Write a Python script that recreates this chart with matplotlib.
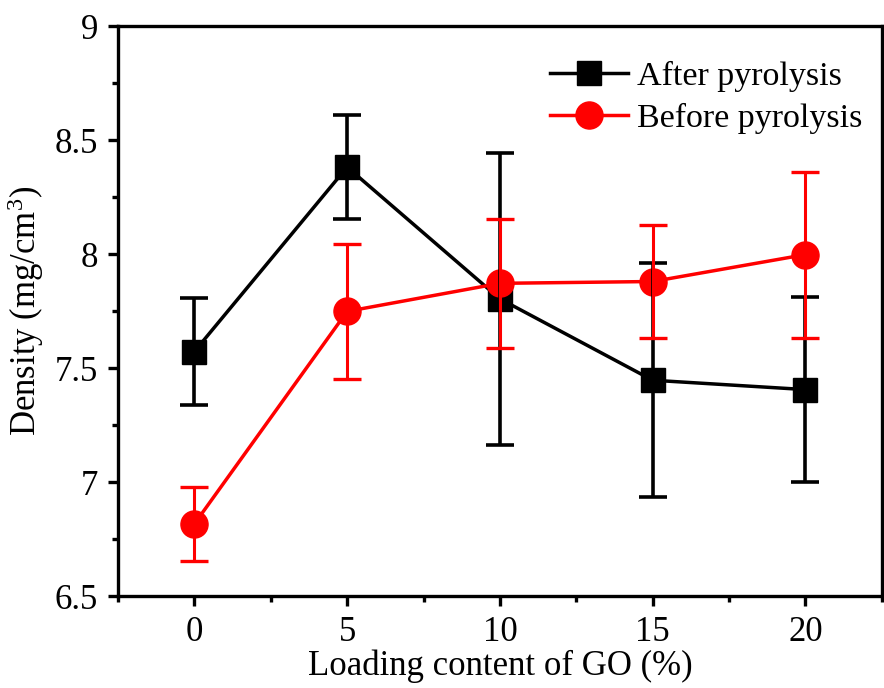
import matplotlib
matplotlib.use("Agg")
import matplotlib.pyplot as plt
from matplotlib.ticker import MultipleLocator

plt.rcParams["font.family"] = "Liberation Serif"
plt.rcParams["mathtext.fontset"] = "custom"
plt.rcParams["mathtext.rm"] = "Liberation Serif"

# GO loading (%) and measured densities (mg/cm3)
go_loading = [0, 5, 10, 15, 20]
after_density = [7.573, 8.382, 7.804, 7.447, 7.406]
after_err = [0.236, 0.228, 0.640, 0.513, 0.405]
before_density = [6.817, 7.749, 7.872, 7.880, 7.998]
before_err = [0.161, 0.297, 0.283, 0.248, 0.364]

fig = plt.figure(figsize = (8.84, 6.88), dpi = 100)
ax = fig.add_axes([0.1335, 0.1335, 0.864, 0.8285])

# lines with markers
ax.plot(go_loading, after_density, color = "black", linewidth = 2.5,
        marker = "s", markersize = 17.5, label = "After pyrolysis", zorder = 2)
ax.plot(go_loading, before_density, color = "red", linewidth = 2.5,
        marker = "o", markersize = 19.5, label = "Before pyrolysis", zorder = 3)

# error bars drawn over the markers
ax.errorbar(go_loading, after_density, yerr = after_err, fmt = "none",
            ecolor = "black", elinewidth = 2.6, capsize = 10, capthick = 2.6, zorder = 4)
ax.errorbar(go_loading, before_density, yerr = before_err, fmt = "none",
            ecolor = "red", elinewidth = 2.2, capsize = 10, capthick = 2.4, zorder = 5)

ax.set_xlim(-2.5, 22.5)
ax.set_ylim(6.5, 9)
ax.xaxis.set_major_locator(MultipleLocator(5))
ax.xaxis.set_minor_locator(MultipleLocator(2.5))
ax.yaxis.set_major_locator(MultipleLocator(0.5))
ax.yaxis.set_minor_locator(MultipleLocator(0.25))
ax.yaxis.set_major_formatter(plt.FuncFormatter(lambda v, p: f"{v:g}"))

for s in ax.spines.values():
    s.set_linewidth(2.4)
ax.tick_params(which = "major", direction = "out", length = 7.5, width = 2.4,
               labelsize = 25, pad = 7)
ax.tick_params(which = "minor", direction = "out", length = 4, width = 2.4)
ax.tick_params(top = False, right = False, which = "both")

ax.set_xlabel("Loading content of GO (%)", fontsize = 25, labelpad = 0)
ax.set_ylabel(r"Density (mg/cm$\mathregular{^3}$)", fontsize = 25, labelpad = 6)

ax.legend(loc = "upper right", frameon = False, fontsize = 24.5,
          handlelength = 2.3, labelspacing = 0.33, handletextpad = 0.25,
          borderaxespad = 0.45, borderpad = 0.4, bbox_to_anchor = (1.012, 0.99))

plt.savefig("out.png", dpi = 100)
plt.close()
